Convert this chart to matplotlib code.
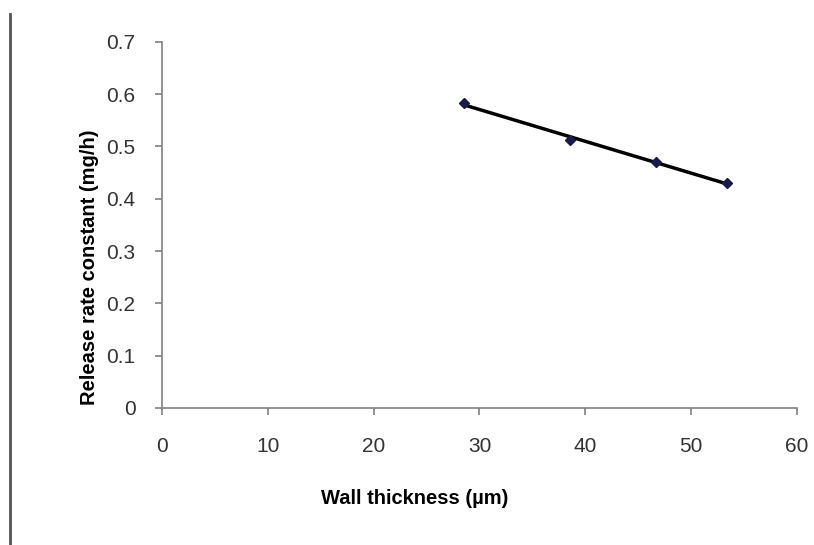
import matplotlib
matplotlib.use("Agg")
import matplotlib.pyplot as plt
import numpy as np
from matplotlib.lines import Line2D

# wall thickness (um) vs release rate constant (mg/h)
wall_thickness = [28.5, 38.6, 46.7, 53.4]
release_rate = [0.583, 0.512, 0.470, 0.430]

plt.rcParams['font.family'] = ['Liberation Sans', 'DejaVu Sans']

fig = plt.figure(figsize=(8.14, 5.45), dpi=100)
ax = fig.add_axes([0.199, 0.2514, 0.780, 0.672])

# linear trend line through the points
slope, intercept = np.polyfit(wall_thickness, release_rate, 1)
x_fit = np.array([min(wall_thickness), max(wall_thickness)])
ax.plot(x_fit, slope * x_fit + intercept, color='black', lw=2.5, zorder=2)
ax.plot(wall_thickness, release_rate, linestyle='none', marker='D', ms=5,
        color='#1a1a4a', zorder=3)

ax.set_xlim(0, 60)
ax.set_ylim(0, 0.7)
ax.set_xticks(range(0, 61, 10))
ax.set_yticks(np.arange(0, 0.71, 0.1))
ax.set_yticklabels(['0', '0.1', '0.2', '0.3', '0.4', '0.5', '0.6', '0.7'])

for s in ['top', 'right']:
    ax.spines[s].set_visible(False)
for s in ['left', 'bottom']:
    ax.spines[s].set_color('#808080')
    ax.spines[s].set_linewidth(1.2)
ax.tick_params(colors='#808080', labelcolor='#333333', labelsize=15,
               length=5, width=1.2)
ax.tick_params(axis='x', pad=16)
ax.tick_params(axis='y', pad=14)

ax.set_xlabel('Wall thickness (µm)', fontsize=14.5, fontweight='bold')
ax.set_ylabel('Release rate constant (mg/h)', fontsize=14.5, fontweight='bold')
ax.xaxis.set_label_coords(0.398, -0.221)
ax.yaxis.set_label_coords(-0.099, 0.385)

# left page border
fig.add_artist(Line2D([0.0125, 0.0125], [0.0, 0.975], color='#555555', lw=2))

fig.savefig('out.png', dpi=100)
